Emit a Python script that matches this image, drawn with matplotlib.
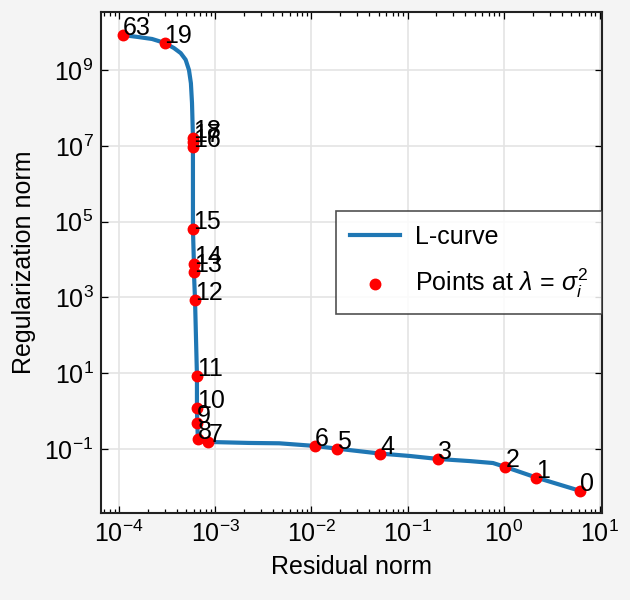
import matplotlib
matplotlib.use("Agg")
import matplotlib.pyplot as plt
from matplotlib.ticker import LogLocator, NullLocator, LogFormatterSciNotation

# points at lambda = sigma_i^2 (index, residual norm, regularization norm)
point_idx = [0, 1, 2, 3, 4, 5, 6, 7, 8, 9, 10, 11, 12, 13, 14, 15, 16, 17, 18, 19, 63]
point_res = [6.27, 2.18, 1.04, 0.208, 0.0516, 0.01836, 0.0109, 8.5e-4, 6.6e-4, 6.5e-4,
             6.45e-4, 6.45e-4, 6.16e-4, 6.0e-4, 6.0e-4, 5.86e-4, 5.86e-4, 5.86e-4,
             5.86e-4, 2.97e-4, 1.09e-4]
point_reg = [0.0078, 0.0176, 0.0335, 0.0544, 0.0756, 0.102, 0.120, 0.153, 0.18, 0.48,
             1.23, 8.6, 860, 4.6e3, 7.5e3, 6.4e4, 9.4e6, 1.28e7, 1.63e7, 5.2e9, 8.4e9]

# L-curve
curve_res = [6.27, 2.18, 1.04, 0.774, 0.446, 0.208, 0.105, 0.0516, 0.01836, 0.0109,
             4.63e-3, 2.25e-3, 8.5e-4, 6.93e-4, 6.6e-4, 6.5e-4, 6.45e-4, 6.45e-4,
             6.16e-4, 6.0e-4, 6.0e-4, 5.86e-4, 5.86e-4, 5.86e-4, 5.82e-4, 5.73e-4,
             5.58e-4, 5.33e-4, 4.92e-4, 4.37e-4, 3.72e-4, 2.97e-4, 2.20e-4, 1.60e-4, 1.09e-4]
curve_reg = [0.0078, 0.0176, 0.0335, 0.0425, 0.0478, 0.0544, 0.0653, 0.0756, 0.102, 0.120,
             0.141, 0.144, 0.153, 0.158, 0.18, 0.48, 1.23, 8.6,
             860, 4.6e3, 7.5e3, 6.4e4, 9.4e6, 1.63e7, 3.2e7, 1.35e8,
             4.5e8, 1.0e9, 1.87e9, 2.8e9, 3.8e9, 5.2e9, 6.6e9, 7.4e9, 8.4e9]

yticks = [1e-1, 1e1, 1e3, 1e5, 1e7, 1e9]

plt.rcParams["font.family"] = ["Liberation Sans", "DejaVu Sans"]
plt.rcParams["font.size"] = 12
plt.rcParams["mathtext.fontset"] = "custom"
plt.rcParams["mathtext.rm"] = "Liberation Sans"
plt.rcParams["mathtext.it"] = "Liberation Sans:italic"
plt.rcParams["mathtext.bf"] = "Liberation Sans:bold"


def main():
    fig = plt.figure(figsize=(4.2, 4.0), dpi=150, facecolor="#f4f4f4")
    ax = fig.add_axes([0.16, 0.145, 0.796, 0.835])
    ax.set_facecolor("white")

    ax.plot(curve_res, curve_reg, color="#1f77b4", lw=2.0, label="L-curve", zorder=2)
    ax.scatter(point_res, point_reg, s=22, color="red", zorder=3,
               label=r"Points at $\lambda\,=\,\sigma_i^2$")
    for i, x, y in zip(point_idx, point_res, point_reg):
        ax.text(x, y, str(i), fontsize=12, zorder=4)

    ax.set_xscale("log")
    ax.set_yscale("log")
    ax.set_xlim(6.45e-5, 10.6)
    ax.set_ylim(2.04e-3, 3.4e10)

    ax.xaxis.set_major_locator(LogLocator(base=10, numticks=20))
    ax.xaxis.set_minor_locator(LogLocator(base=10, subs=range(2, 10), numticks=20))
    ax.set_yticks(yticks)
    ax.yaxis.set_major_formatter(LogFormatterSciNotation())
    ax.yaxis.set_minor_locator(NullLocator())

    ax.tick_params(which="both", direction="in", top=True, right=True, width=0.6)
    ax.tick_params(which="major", length=3.5, labelsize=12)
    ax.tick_params(which="minor", length=2)
    for s in ax.spines.values():
        s.set_linewidth(1.0)
        s.set_color("#222222")

    ax.grid(True, which="major", color="#e4e4e4", lw=0.8, zorder=0)
    ax.set_axisbelow(True)

    ax.set_xlabel("Residual norm", fontsize=12)
    ax.set_ylabel("Regularization norm", fontsize=12)

    leg = ax.legend(loc="center right", borderaxespad=0, fancybox=False,
                    edgecolor="#333333", framealpha=0.85, handlelength=2.0,
                    handletextpad=0.6, labelspacing=0.7, borderpad=0.55, fontsize=12)
    leg.get_frame().set_linewidth(0.8)

    fig.savefig("out.png", dpi=150, facecolor=fig.get_facecolor())


if __name__ == "__main__":
    main()
